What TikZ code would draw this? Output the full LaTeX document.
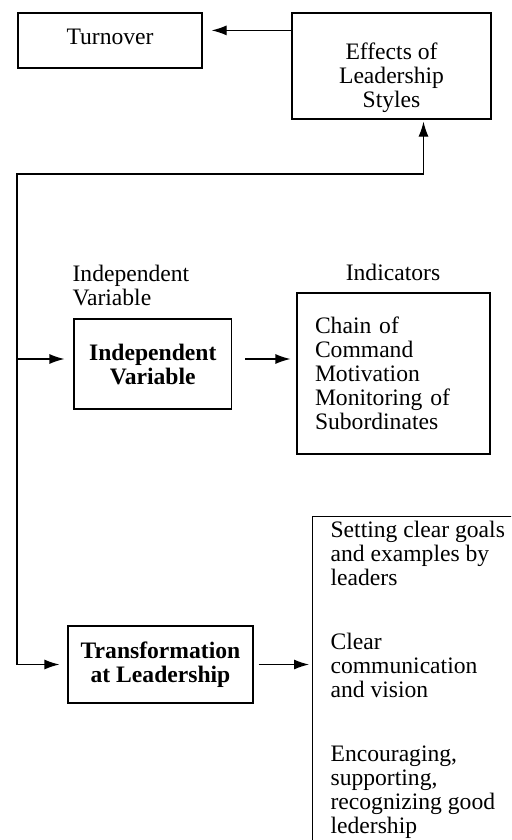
\documentclass[tikz,border=0pt]{standalone}
\usepackage{fontspec}
\setmainfont{Liberation Serif}
\usetikzlibrary{arrows.meta}

\tikzset{
  boxnode/.style={draw, inner sep=0pt, align=center, font=\fontsize{11.8}{12}\selectfont},
  boldbox/.style={boxnode, font=\fontsize{11.8}{12}\selectfont\bfseries},
  plain/.style={inner sep=0pt, font=\fontsize{11.8}{12}\selectfont},
}

\begin{document}
\begin{tikzpicture}[x=0.5pt, y=-0.5pt, line width=0.6pt, >={Latex[length=7.5pt,width=5pt]}]
\useasboundingbox (0,0) rectangle (511,840);
\clip (0,0) rectangle (511,840);

\node[boxnode, minimum width=92pt, minimum height=27.5pt, text depth=3.5pt] (turnover) at (110,40.5) {Turnover};
\node[boxnode, minimum width=99.5pt, minimum height=53pt] (effects) at (391.5,66) {};
\node[plain, align=center, anchor=north] (effectstext) at (391.5,42) {Effects of\\Leadership\\Styles};

\node[plain, align=left, anchor=north west] (ivlabel) at (72,265) {Independent\\Variable};
\node[boldbox, minimum width=78.8pt, minimum height=45pt] (ivbox) at (152.8,364) {Independent\\Variable};
\node[plain, anchor=base] (indlabel) at (393,280) {Indicators};
\node[boxnode, text width=78.5pt, inner xsep=9pt, align=left, minimum height=80.5pt] (indbox) at (393.5,373.5) {Chain of\\Command\\Motivation\\Monitoring of\\Subordinates};

\node[boldbox, minimum width=92.5pt, minimum height=38.5pt] (transform) at (160.5,664.5) {Transformation\\at Leadership};
% box runs off the page on the right and at the bottom
\node[boxnode, anchor=north west, minimum width=150pt, minimum height=250pt] (leadbox) at (312,516) {};
\node[plain, align=left, anchor=north west] (leadtext) at (330,521) {Setting clear goals\\and examples by\\leaders\\[20pt]Clear\\communication\\and vision\\[20pt]Encouraging,\\supporting,\\recognizing good\\ledership};

\coordinate (bus) at (17,174);
\coordinate (effout) at ([yshift=-9pt]effects.north west);
\coordinate (ivin) at ([yshift=2.5pt]ivbox.west);

\draw [->, shorten >=4.5pt] (effout) -- (effout -| turnover.east);
\draw [->, shorten >=1pt] (bus |- transform.west) -- (bus) -| ([xshift=16pt]effects.south);
\draw [->, shorten >=4.5pt] (bus |- ivin) -- (ivin);
\draw [->, shorten <=6.5pt, shorten >=3pt] (ivin -| ivbox.east) -- (ivin -| indbox.west);
\draw [->, shorten >=4pt] (bus |- transform.west) -- (transform.west);
\draw [->, shorten <=2.5pt, shorten >=1.5pt] (transform.east) -- (transform.east -| leadbox.west);
\end{tikzpicture}
\end{document}
